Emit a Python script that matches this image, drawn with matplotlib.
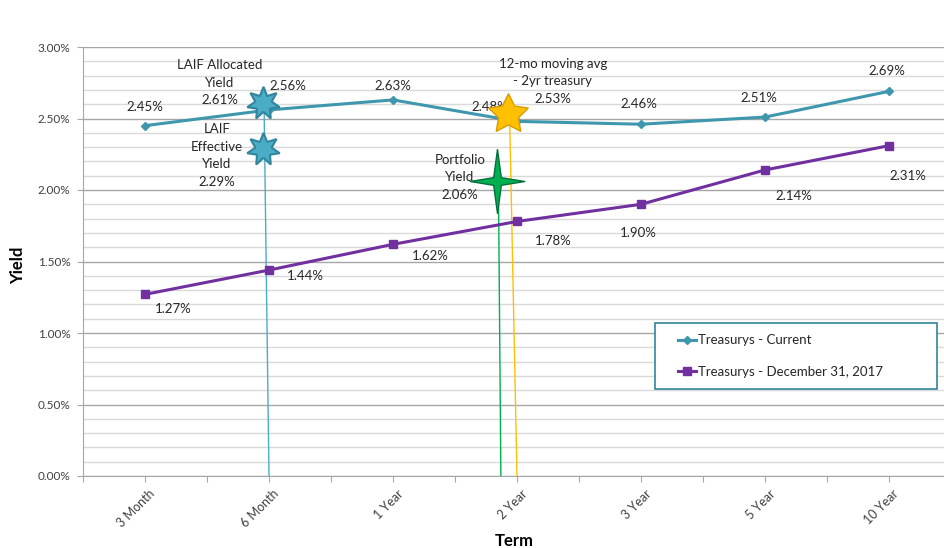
import matplotlib
matplotlib.use('Agg')
import matplotlib.pyplot as plt
from matplotlib.patches import Rectangle
from matplotlib.ticker import MultipleLocator, FuncFormatter

plt.rcParams['font.family'] = ['Lato', 'DejaVu Sans']

terms = ['3 Month', '6 Month', '1 Year', '2 Year', '3 Year', '5 Year', '10 Year']
current = [2.45, 2.56, 2.63, 2.48, 2.46, 2.51, 2.69]
dec_2017 = [1.27, 1.44, 1.62, 1.78, 1.90, 2.14, 2.31]

# reference yields shown as stars
laif_alloc = 2.61
laif_eff = 2.29
portfolio = 2.06
moving_avg = 2.53

C_CUR = '#3F97AE'
C_DEC = '#7030A0'
C_LAIF = '#4BACC6'
C_GREEN = '#00B050'
C_GOLD = '#FFC000'

# slim 4-point star, a bit taller than wide
star4 = [(0, 1.17), (0.14, 0.14), (1, 0), (0.14, -0.14), (0, -1.17),
         (-0.14, -0.14), (-1, 0), (-0.14, 0.14), (0, 1.17)]

fig = plt.figure(figsize=(9.44, 5.48), dpi=100)
ax = fig.add_axes([83 / 944, 72 / 548, 868 / 944, 429 / 548])

xs = list(range(len(terms)))
ax.set_xlim(-0.5, 6.5)
ax.set_ylim(0, 3.0)

ax.yaxis.set_major_locator(MultipleLocator(0.5))
ax.yaxis.set_minor_locator(MultipleLocator(0.1))
ax.grid(which='minor', axis='y', color='#D9D9D9', lw=1.0)
ax.grid(which='major', axis='y', color='#A6A6A6', lw=1.0)
ax.set_axisbelow(True)
ax.yaxis.set_major_formatter(FuncFormatter(lambda v, p: f'{v:.2f}%'))
ax.tick_params(axis='y', which='minor', length=0)
ax.tick_params(axis='y', which='major', length=4, color='#A6A6A6',
               labelsize=8.5, labelcolor='#404040', pad=5)

ax.set_xticks([i * 0.5 - 0.5 for i in range(15)])
ax.set_xticklabels([])
ax.tick_params(axis='x', length=4, color='#A6A6A6')
for i, t in enumerate(terms):
    ax.text(i + 0.03, -0.08, t, rotation=45, ha='right', va='top',
            rotation_mode='anchor', fontsize=9, color='#404040')

for s in ['top', 'right']:
    ax.spines[s].set_visible(False)
for s in ['left', 'bottom']:
    ax.spines[s].set_color('#A6A6A6')

ax.plot(xs, current, '-D', color=C_CUR, lw=2.2, markersize=4, label='Treasurys - Current', zorder=4)
ax.plot(xs, dec_2017, '-s', color=C_DEC, lw=2.2, markersize=6, label='Treasurys - December 31, 2017', zorder=4)

lab_kw = dict(fontsize=9.5, color='#262626', ha='center', va='center')
cur_off = [(0, 0.13), (0.15, 0.17), (0, 0.1), (-0.22, 0.1), (-0.02, 0.14), (-0.05, 0.13), (-0.02, 0.14)]
dec_off = [(0.23, -0.1), (0.29, -0.04), (0.3, -0.08), (0.29, -0.14), (-0.02, -0.2), (0.23, -0.18), (0.15, -0.21)]
for i in xs:
    ax.text(i + cur_off[i][0], current[i] + cur_off[i][1], f'{current[i]:.2f}%', **lab_kw)
    ax.text(i + dec_off[i][0], dec_2017[i] + dec_off[i][1], f'{dec_2017[i]:.2f}%', **lab_kw)

# drop lines and star markers
ax.plot([1.0, 0.96], [0, laif_alloc], color=C_LAIF, lw=1, zorder=3)
ax.plot([2.87, 2.85], [0, portfolio], color=C_GREEN, lw=1, zorder=3)
ax.plot([3.0, 2.94], [0, moving_avg], color=C_GOLD, lw=1, zorder=3)

ax.plot(0.95, laif_alloc, marker=(7, 1, 0), markersize=24, color=C_LAIF,
        markeredgecolor='#31859C', markeredgewidth=1.5, zorder=5)
ax.plot(0.95, laif_eff, marker=(7, 1, 0), markersize=24, color=C_LAIF,
        markeredgecolor='#31859C', markeredgewidth=1.5, zorder=5)
ax.plot(2.84, portfolio, marker=star4, markersize=46, color=C_GREEN,
        markeredgecolor='#00703C', markeredgewidth=1, zorder=5)
ax.plot(2.93, moving_avg, marker=(5, 1, 0), markersize=30, color=C_GOLD,
        markeredgecolor='#D99A00', markeredgewidth=1, zorder=5)

ax.text(0.6, 2.75, f'LAIF Allocated\nYield\n{laif_alloc:.2f}%', fontsize=9.5,
        color='#262626', ha='center', va='center', linespacing=1.55)
ax.text(0.58, 2.24, f'LAIF\nEffective\nYield\n{laif_eff:.2f}%', fontsize=9.5,
        color='#262626', ha='center', va='center', linespacing=1.55)
ax.text(2.54, 2.09, f'Portfolio\nYield\n{portfolio:.2f}%', fontsize=9.5,
        color='#262626', ha='center', va='center', linespacing=1.55)
ax.text(3.29, 2.76, f'12-mo moving avg\n- 2yr treasury\n{moving_avg:.2f}%', fontsize=9.5,
        color='#262626', ha='center', va='center', linespacing=1.55)

fig.text(18 / 944, 1 - 265 / 548, 'Yield', fontsize=12, fontweight='bold',
         rotation=90, ha='center', va='center')
fig.text(514 / 944, 1 - 541 / 548, 'Term', fontsize=12, fontweight='bold', ha='center', va='center')

# legend box drawn separately so the entries can sit indented like the original
ax.add_patch(Rectangle((655 / 944, 1 - 389 / 548), 282 / 944, 66 / 548,
                       transform=fig.transFigure, facecolor='white', clip_on=False,
                       edgecolor='#31859C', lw=1.2, zorder=6))
leg = ax.legend(loc='center left', bbox_to_anchor=((678 - 83) / 868, (476 - 356) / 429),
                borderaxespad=0, fontsize=9.5, frameon=False,
                handlelength=1.4, handletextpad=0.1, borderpad=0, labelspacing=1.45)
leg.set_zorder(7)
for t in leg.get_texts():
    t.set_color('#262626')

fig.savefig('out.png', dpi=100)
